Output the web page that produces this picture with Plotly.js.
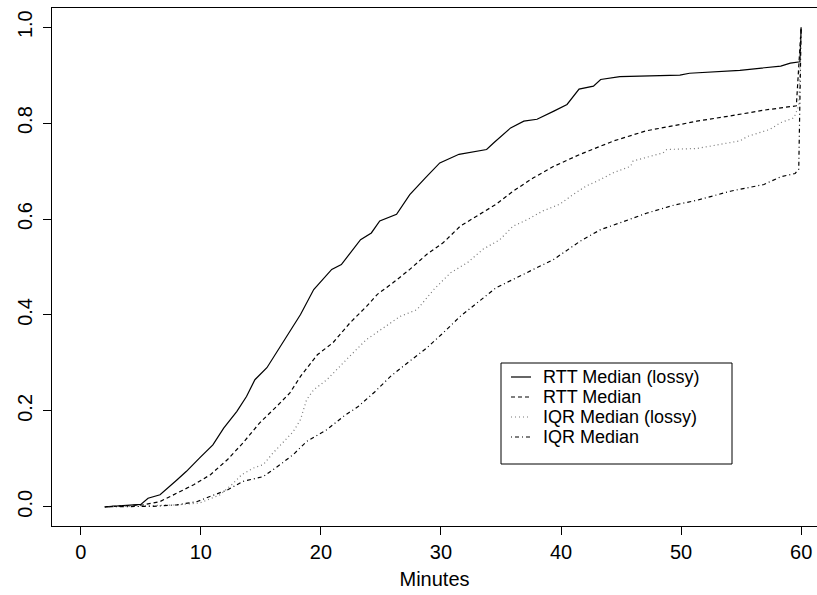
<!DOCTYPE html>
<html>
<head>
<meta charset="utf-8">
<script src="https://cdn.plot.ly/plotly-3.0.1.min.js"></script>
<style>html,body{margin:0;padding:0;background:#fff;}#chart{width:817px;height:595px;}</style>
</head>
<body>
<div id="chart"></div>
<script>
// Series names
const seriesNames = ["RTT Median (lossy)", "RTT Median", "IQR Median (lossy)", "IQR Median"];

// RTT Median (lossy)
const rttLossyX = [2, 3.5, 5.0, 5.6, 6.6, 8.0, 8.8, 9.9, 11.0, 11.9, 13.0, 13.8, 14.5, 15.5, 17.0, 18.3, 19.4, 20.9, 21.7, 23.3, 24.2, 24.9, 26.3, 27.4, 28.7, 29.9, 31.5, 33.8, 34.4, 35.8, 36.9, 38.0, 39.4, 40.5, 41.5, 42.7, 43.3, 44.9, 49.9, 50.7, 54.9, 58.3, 59.1, 59.9, 60];
const rttLossyY = [0, 0.002, 0.005, 0.018, 0.025, 0.056, 0.074, 0.102, 0.129, 0.164, 0.199, 0.23, 0.265, 0.29, 0.35, 0.401, 0.453, 0.495, 0.505, 0.557, 0.571, 0.596, 0.61, 0.651, 0.686, 0.717, 0.735, 0.745, 0.759, 0.79, 0.804, 0.808, 0.825, 0.839, 0.871, 0.877, 0.891, 0.897, 0.900, 0.904, 0.910, 0.919, 0.925, 0.928, 1.0];

// RTT Median
const rttX = [2, 5.2, 6.6, 8.0, 9.4, 10.8, 12.2, 13.5, 14.9, 16.3, 17.4, 18.3, 19.7, 21.0, 22.4, 23.8, 24.7, 26.0, 27.4, 28.8, 30.2, 31.6, 33.0, 34.6, 36.0, 37.7, 39.4, 41.6, 44.4, 47.1, 49.9, 51.3, 54.1, 56.9, 59.6, 60];
const rttY = [0, 0.004, 0.011, 0.029, 0.046, 0.067, 0.098, 0.133, 0.175, 0.209, 0.237, 0.272, 0.317, 0.342, 0.383, 0.418, 0.443, 0.467, 0.495, 0.526, 0.551, 0.585, 0.606, 0.631, 0.658, 0.686, 0.71, 0.735, 0.763, 0.784, 0.797, 0.804, 0.815, 0.827, 0.836, 1.0];

// IQR Median (lossy)
const iqrLossyX = [2, 6, 8, 9.9, 11.6, 12.7, 13.4, 14.4, 15.2, 16.0, 16.9, 17.7, 18.3, 18.8, 19.4, 20.5, 22.4, 23.8, 25.2, 26.6, 28.0, 29.4, 30.8, 32.2, 33.5, 34.9, 36.0, 37.2, 38.5, 39.9, 41.0, 42.1, 43.0, 44.4, 45.8, 46.0, 48.5, 48.8, 51.3, 54.9, 55.5, 57.4, 58.3, 59.4, 59.8, 60];
const iqrLossyY = [0, 0.002, 0.004, 0.008, 0.025, 0.049, 0.067, 0.081, 0.088, 0.112, 0.136, 0.157, 0.182, 0.223, 0.244, 0.265, 0.314, 0.349, 0.373, 0.397, 0.411, 0.453, 0.488, 0.509, 0.537, 0.557, 0.585, 0.599, 0.617, 0.631, 0.651, 0.669, 0.679, 0.697, 0.710, 0.721, 0.738, 0.745, 0.747, 0.763, 0.772, 0.787, 0.801, 0.811, 0.836, 1.0];

// IQR Median
const iqrX = [2, 6, 8, 9.7, 10.8, 12.2, 13.5, 15.2, 16.6, 17.7, 18.8, 20.5, 21.9, 23.1, 24.5, 25.8, 27.2, 28.8, 30.2, 31.6, 33.0, 34.6, 36.0, 37.7, 39.4, 41.6, 43.3, 44.9, 47.1, 49.4, 51.3, 54.1, 56.9, 58.3, 59.5, 59.8, 60];
const iqrY = [0, 0.001, 0.004, 0.011, 0.022, 0.035, 0.053, 0.063, 0.088, 0.109, 0.136, 0.161, 0.189, 0.209, 0.24, 0.272, 0.3, 0.331, 0.363, 0.397, 0.425, 0.457, 0.474, 0.495, 0.516, 0.554, 0.578, 0.592, 0.612, 0.629, 0.639, 0.658, 0.672, 0.688, 0.695, 0.704, 1.0];

// Axis ticks
const xTicks = [0, 10, 20, 30, 40, 50, 60];
const yTicks = [0, 0.2, 0.4, 0.6, 0.8, 1.0];
const yTickText = ["0.0", "0.2", "0.4", "0.6", "0.8", "1.0"];

const styles = [
  {color: "#000000", width: 1.2, dash: "solid"},
  {color: "#000000", width: 1.2, dash: "4px,3px"},
  {color: "#777777", width: 1.2, dash: "1px,3px"},
  {color: "#000000", width: 1.2, dash: "1px,3px,4px,3px"}
];
const xs = [rttLossyX, rttX, iqrLossyX, iqrX];
const ys = [rttLossyY, rttY, iqrLossyY, iqrY];

const traces = xs.map((x, i) => ({
  x: x, y: ys[i], type: "scatter", mode: "lines", name: seriesNames[i],
  line: {color: styles[i].color, width: styles[i].width, dash: styles[i].dash},
  showlegend: false
}));

// R-style legend (box, sample lines, labels) in paper coords
const plotL = 52, plotT = 8, plotW = 765, plotH = 518;
const px2x = p => (p - plotL) / plotW;
const py2y = p => (plotT + plotH - p) / plotH;
const rowY = [377, 397, 417, 437];
const shapes = [{
  type: "rect", xref: "paper", yref: "paper",
  x0: px2x(501), x1: px2x(732), y0: py2y(464), y1: py2y(363),
  line: {color: "#000", width: 1}, fillcolor: "rgba(255,255,255,1)", layer: "above"
}];
const annotations = [];
seriesNames.forEach((n, i) => {
  shapes.push({
    type: "line", xref: "paper", yref: "paper",
    x0: px2x(511), x1: px2x(531), y0: py2y(rowY[i]), y1: py2y(rowY[i]),
    line: {color: styles[i].color, width: styles[i].width, dash: styles[i].dash}, layer: "above"
  });
  annotations.push({
    xref: "paper", yref: "paper", x: px2x(541), y: py2y(rowY[i]),
    xanchor: "left", yanchor: "middle", text: n, showarrow: false,
    font: {family: "Liberation Sans, Arial, sans-serif", size: 18, color: "#000"}
  });
});

const layout = {
  width: 817, height: 595,
  margin: {l: plotL, r: 0, t: plotT, b: 595 - plotT - plotH, pad: 0},
  paper_bgcolor: "#fff", plot_bgcolor: "#fff",
  font: {family: "Liberation Sans, Arial, sans-serif", size: 20, color: "#000"},
  xaxis: {
    range: [-2.4, 61.32], tickvals: xTicks, ticks: "outside", ticklen: 8, tickwidth: 1, tickcolor: "#000",
    showline: true, mirror: true, linecolor: "#000", linewidth: 1,
    showgrid: false, zeroline: false,
    title: {text: "Minutes", standoff: 9, font: {size: 20}}
  },
  yaxis: {
    range: [-0.04, 1.04], tickvals: yTicks, ticktext: yTickText, tickangle: -90,
    ticks: "outside", ticklen: 8, tickwidth: 1, tickcolor: "#000",
    showline: true, mirror: false, linecolor: "#000", linewidth: 1,
    showgrid: false, zeroline: false, ticklabelstandoff: 3
  },
  shapes: shapes,
  annotations: annotations,
  showlegend: false
};

Plotly.newPlot("chart", traces, layout, {displayModeBar: false, staticPlot: true});
</script>
</body>
</html>
